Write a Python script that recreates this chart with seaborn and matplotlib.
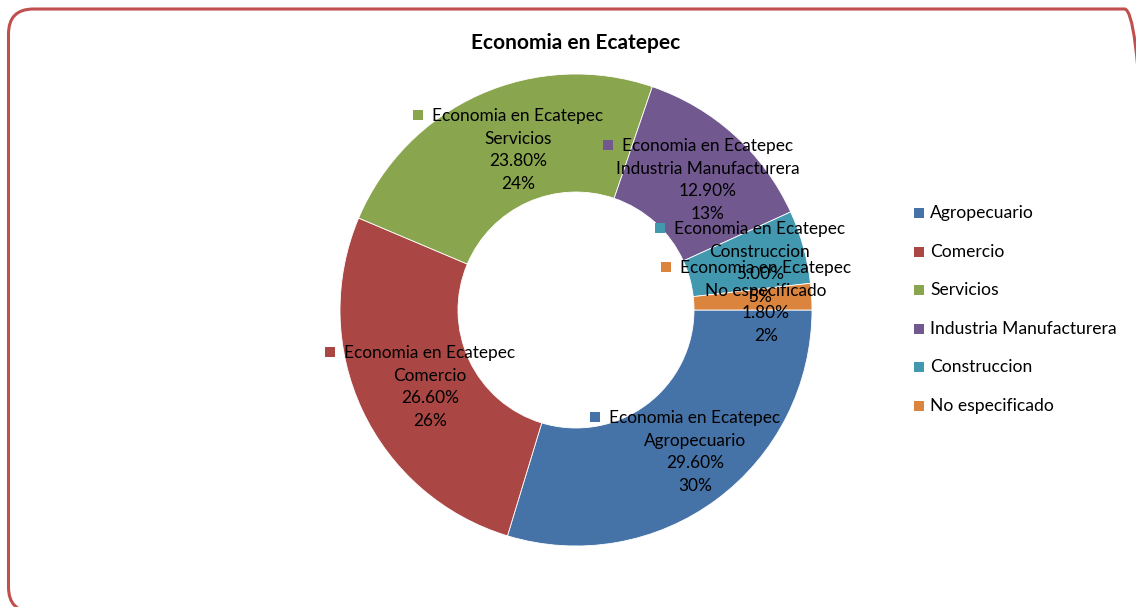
import matplotlib
matplotlib.use("Agg")
import matplotlib.pyplot as plt
import seaborn as sns
from matplotlib.patches import FancyBboxPatch, Rectangle

# ---- data ----
title = "Economia en Ecatepec"
series_name = "Economia en Ecatepec"
categories = ["Agropecuario", "Comercio", "Servicios", "Industria Manufacturera",
              "Construccion", "No especificado"]
values = [29.6, 26.6, 23.8, 12.9, 5.0, 1.8]
pct_labels = ["29.60%", "26.60%", "23.80%", "12.90%", "5.00%", "1.80%"]
rounded_labels = ["30%", "26%", "24%", "13%", "5%", "2%"]
colors = ["#4572A7", "#AA4643", "#89A54E", "#71588F", "#4198AF", "#DB843D"]

sns.set_theme(style="white")
plt.rcParams['font.family'] = ['Lato', 'DejaVu Sans']
palette = sns.color_palette(colors)

W, H = 1136, 607
fig = plt.figure(figsize=(W / 100, H / 100), dpi=100)
fig.patch.set_facecolor("white")

def fx(x):
    return x / W

def fy(y):
    return 1 - y / H

# pie axes: center (576,310), radius 236
cx, cy, R = 576, 310, 236
ax = fig.add_axes([fx(cx - R), fy(cy + R), 2 * R / W, 2 * R / H])
wedges, _ = ax.pie(values, colors=palette, startangle=0, counterclock=False,
                   wedgeprops=dict(width=0.5, edgecolor="white", linewidth=0.6),
                   radius=1.0)
ax.set_xlim(-1, 1)
ax.set_ylim(-1, 1)
ax.set_aspect("auto")
ax.axis("off")

# title
fig.text(fx(576), fy(43), title, ha="center", va="center", fontsize=15,
         fontweight="bold", color="black")

# data label layout (pixel centre of text block, first line y)
label_pos = {
    "Agropecuario": (695, 418),
    "Comercio": (430, 353),
    "Servicios": (518, 116),
    "Industria Manufacturera": (708, 146),
    "Construccion": (760, 229),
    "No especificado": (766, 268),
}
line_gap = 22.7
fs = 12.4
fig.canvas.draw()
renderer = fig.canvas.get_renderer()
for i, cat in enumerate(categories):
    x, y = label_pos[cat]
    lines = [series_name, cat, pct_labels[i], rounded_labels[i]]
    first = None
    for j, ln in enumerate(lines):
        t = fig.text(fx(x), fy(y + j * line_gap), ln, ha="center", va="center",
                     fontsize=fs, color="black")
        if j == 0:
            first = t
    bb = first.get_window_extent(renderer)
    sq = 10
    left = bb.x0 - 19
    fig.patches.append(Rectangle((fx(left), fy(y + sq / 2 - 1)), sq / W, sq / H,
                                 transform=fig.transFigure, facecolor=palette[i],
                                 edgecolor="none"))

# legend
leg_y0, leg_gap = 213, 38.6
for i, cat in enumerate(categories):
    y = leg_y0 + i * leg_gap
    fig.patches.append(Rectangle((fx(914), fy(y + 5)), 10 / W, 10 / H,
                                 transform=fig.transFigure, facecolor=palette[i],
                                 edgecolor="none"))
    fig.text(fx(930), fy(y), cat, ha="left", va="center", fontsize=12.6, color="black")

# rounded border
border = FancyBboxPatch((8.5, -5), 1141, 603, boxstyle="round,pad=0,rounding_size=25",
                        transform=None, facecolor="none", edgecolor="#C0504D",
                        linewidth=2.2)
fig.patches.append(border)

fig.savefig("out.png", dpi=100, facecolor="white")
